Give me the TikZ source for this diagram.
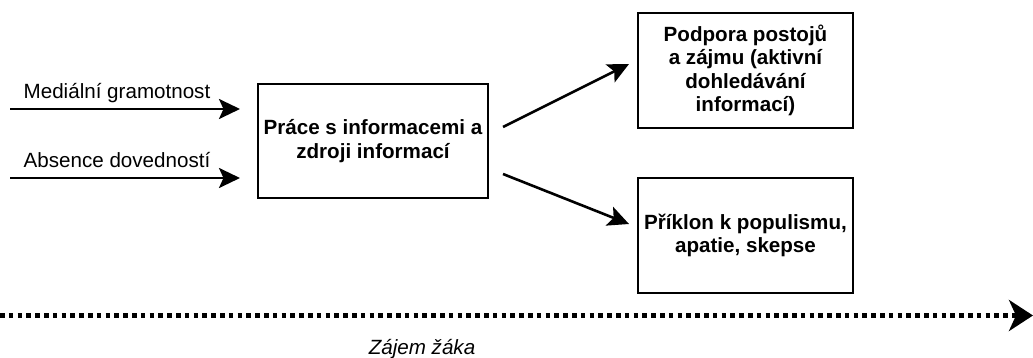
\documentclass[tikz,border=0pt]{standalone}
\usepackage{fontspec}
\setmainfont{Liberation Sans}
\usetikzlibrary{arrows.meta}
\begin{document}
\begin{tikzpicture}[x=1pt,y=-1pt,
  box/.style={draw,line width=2.6pt,align=center,inner sep=0pt,
    font=\bfseries\fontsize{20.6}{23.5}\selectfont},
  flow/.style={line width=2.6pt,-{Stealth[length=21pt,width=20pt,inset=4.5pt]}},
  lbl/.style={inner sep=0pt,font=\fontsize{20.6}{23.5}\selectfont},
  axis/.style={line width=4.8pt,dash pattern=on 4.6pt off 4.2pt,
    -{Stealth[length=24pt,width=31pt,inset=7pt]}}]
\useasboundingbox (0,0) rectangle (1033,358);

% boxes
\node[box,minimum width=230pt,minimum height=114pt] (mid) at (373,141)
  {Práce s informacemi a\\zdroji informací};
\node[box,minimum width=215pt,minimum height=115pt] (top) at (745.5,70.5)
  {Podpora postojů\\a zájmu (aktivní\\dohledávání\\informací)};
\node[box,minimum width=215pt,minimum height=115pt] (bot) at (745.5,235.5)
  {Příklon k populismu,\\apatie, skepse};

% inputs
\coordinate (m0) at (10,109);
\coordinate (m1) at (240,109);
\coordinate (a0) at (10,178);
\coordinate (a1) at (240,178);
\draw[flow] (m0) -- (m1);
\draw[flow] (a0) -- (a1);
\node[lbl] (ml) at (117,93) {Mediální gramotnost};
\node[lbl] (al) at (117,160) {Absence dovedností};

% outputs
\coordinate (u0) at (503,127);
\coordinate (u1) at (629,64);
\coordinate (d0) at (503,174);
\coordinate (d1) at (629,224);
\draw[flow] (u0) -- (u1);
\draw[flow] (d0) -- (d1);

% interest axis
\coordinate (x0) at (0,315.5);
\coordinate (x1) at (1033,315.5);
\draw[axis] (x0) -- (x1);
\node[lbl,font=\itshape\fontsize{20.6}{23.5}\selectfont] (xl) at (422,349) {Zájem žáka};
\end{tikzpicture}
\end{document}
